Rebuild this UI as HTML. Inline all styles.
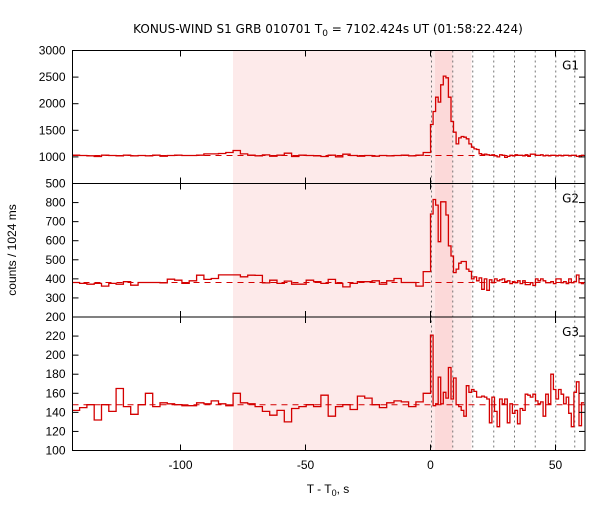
<!DOCTYPE html>
<html><head><meta charset="utf-8"><style>
body{margin:0;background:#fff;}
svg text{font-family:"Liberation Sans",sans-serif;font-size:12px;fill:#000;}
svg text.dv{font-family:"DejaVu Sans",sans-serif;}
</style></head><body>
<svg id="chart" width="600" height="500" xmlns="http://www.w3.org/2000/svg">
<text class="dv" x="328" y="33" text-anchor="middle">KONUS-WIND S1 GRB 010701 T<tspan font-size="9" dy="3">0</tspan><tspan dy="-3"> = 7102.424s UT (01:58:22.424)</tspan></text>
<text transform="translate(16,250) rotate(-90)" text-anchor="middle">counts / 1024 ms</text>
<text x="328" y="493" text-anchor="middle">T - T<tspan font-size="9" dy="3">0</tspan><tspan dy="-3">, s</tspan></text>
<g id="layer"></g>
</svg>
<script>
const preEdgeStart = -143.3, preBinWidth = 2.925;
const postBinWidth = 1.024;
const g1Pre = [1032,1026,1020,1007,1032,1026,1020,1032,1020,1026,1020,1032,1013,1026,1032,1026,1026,1032,1057,1057,1063,1082,1120,1057,1032,1020,1038,1013,1032,1070,1007,1032,1026,1020,1007,1032,1001,1051,1026,1013,1026,1013,1026,1020,1026,1032,1020,1032,1083];
const g1Post = [1609,1853,2123,2030,2355,2518,2486,2123,1665,1465,1245,1357,1383,1370,1340,1245,1183,1150,1140,1060,1040,1050,1040,1030,1040,1020,1000,1040,1030,990,1010,1030,1020,1040,1030,1030,1020,1040,1010,1050,1050,1030,1030,1040,1020,1030,1020,1030,1030,1020,1030,1020,1030,1030,1020,1030,1030,1010,1000,1030];
const g2Pre = [381,376,372,376,362,376,372,385,367,381,381,381,379,398,393,376,390,419,397,402,421,421,421,411,419,418,379,393,376,388,372,372,393,385,376,397,376,358,376,385,385,390,372,390,402,381,381,362,438];
const g2Post = [740,816,787,595,804,804,735,573,520,433,451,482,491,491,451,439,400,410,390,405,345,400,340,395,380,400,390,395,400,385,390,375,385,380,390,375,390,370,370,380,365,400,390,400,390,380,380,385,375,400,400,380,385,375,400,380,385,420,380,375];
const g3Pre = [142,145,148,132,148,141,165,146,138,148,160,146,150,149,148,147,147,150,149,152,149,147,160,150,149,146,141,137,142,130,144,146,148,146,158,136,146,148,143,157,155,148,145,150,152,151,146,151,160];
const g3Post = [221,147,149,177,149,161,155,187,154,176,148,146,142,136,168,161,164,162,156,156,157,156,154,129,156,141,125,154,149,154,129,149,139,142,128,144,142,159,158,156,159,152,149,151,136,159,149,180,164,154,164,159,149,156,139,125,161,172,126,150];
const panelNames = ["G1","G2","G3"];
const baselines = [1026,381,148];
const yMins = [500,200,100], yMaxs = [3000,900,240];
const yTicks = [[500,1000,1500,2000,2500,3000],[200,300,400,500,600,700,800],[100,120,140,160,180,200,220]];
const xTicks = [-100,-50,0,50];
const markerTimes = [0.4,8.9,16.9,25.3,33.6,41.9,50.1,57.7];
const bgInterval = [-79,16.4];
const peakInterval = [1.8,8.8];

const NS="http://www.w3.org/2000/svg";
const L=72.5,R=585,xMin=-143.2,xMax=61.8;
const panelTop=[50.5,183.5,317],panelBot=[183.5,317,450.5];
const X=t=>L+(t-xMin)/(xMax-xMin)*(R-L);
const layer=document.getElementById('layer');
function mk(tag,attrs){const e=document.createElementNS(NS,tag);for(const k in attrs)e.setAttribute(k,attrs[k]);layer.appendChild(e);return e;}

let e=mk('rect',{x:X(bgInterval[0]),y:50.5,width:X(bgInterval[1])-X(bgInterval[0]),height:400,fill:'#fdeaea'});


e=mk('rect',{x:X(peakInterval[0]),y:50.5,width:X(peakInterval[1])-X(peakInterval[0]),height:400,fill:'#fcd9d9'});


markerTimes.forEach(t=>{
  const l=mk('line',{x1:X(t),x2:X(t),y1:50.5,y2:450.5,stroke:'#777','stroke-dasharray':'2,3','stroke-width':1});
  
  
});

const pre=[g1Pre,g2Pre,g3Pre],post=[g1Post,g2Post,g3Post];
for(let p=0;p<3;p++){
  const top=panelTop[p],bot=panelBot[p];
  const Y=v=>bot-(v-yMins[p])/(yMaxs[p]-yMins[p])*(bot-top);
  const bl=mk('line',{x1:L,x2:R,y1:Y(baselines[p]),y2:Y(baselines[p]),stroke:'#d40000','stroke-dasharray':'6,5','stroke-width':1});
  
  
  let d='';
  const pts=[];
  pre[p].forEach((v,i)=>{const t0=preEdgeStart+i*preBinWidth;pts.push([t0,t0+preBinWidth,v]);});
  post[p].forEach((v,i)=>{const t0=i*postBinWidth;pts.push([t0,t0+postBinWidth,v]);});
  pts.forEach((b,i)=>{
    const x0=Math.max(X(b[0]),L),x1=Math.min(X(b[1]),R),y=Math.max(Math.min(Y(b[2]),bot),top);
    d+=(i===0?'M':'L')+x0.toFixed(1)+','+y.toFixed(1)+'L'+x1.toFixed(1)+','+y.toFixed(1);
  });
  const h=mk('path',{d:d,fill:'none',stroke:'#d40000','stroke-width':1.3});
  
  
  const fr=mk('rect',{x:L,y:top,width:R-L,height:bot-top,fill:'none',stroke:'#000','stroke-width':1});
  
  
  yTicks[p].forEach(v=>{
    const y=Y(v);
    mk('line',{x1:L,x2:L+6,y1:y,y2:y,stroke:'#000'});
    mk('line',{x1:R,x2:R-6,y1:y,y2:y,stroke:'#000'});
    if(p===0||v!==yMaxs[p]){
      const t=mk('text',{x:L-7,y:y+4,'text-anchor':'end'});t.textContent=v;
      
      
    }
  });
  xTicks.forEach(v=>{
    mk('line',{x1:X(v),x2:X(v),y1:bot,y2:bot-6,stroke:'#000'});
    mk('line',{x1:X(v),x2:X(v),y1:top,y2:top+6,stroke:'#000'});
  });
  const lb=mk('text',{x:579,y:top+19,'text-anchor':'end','class':'dv'});lb.textContent=panelNames[p];
  
  
}
xTicks.forEach(v=>{
  const t=mk('text',{x:X(v),y:469,'text-anchor':'middle'});t.textContent=v;
  
  
});
</script>
</body></html>
